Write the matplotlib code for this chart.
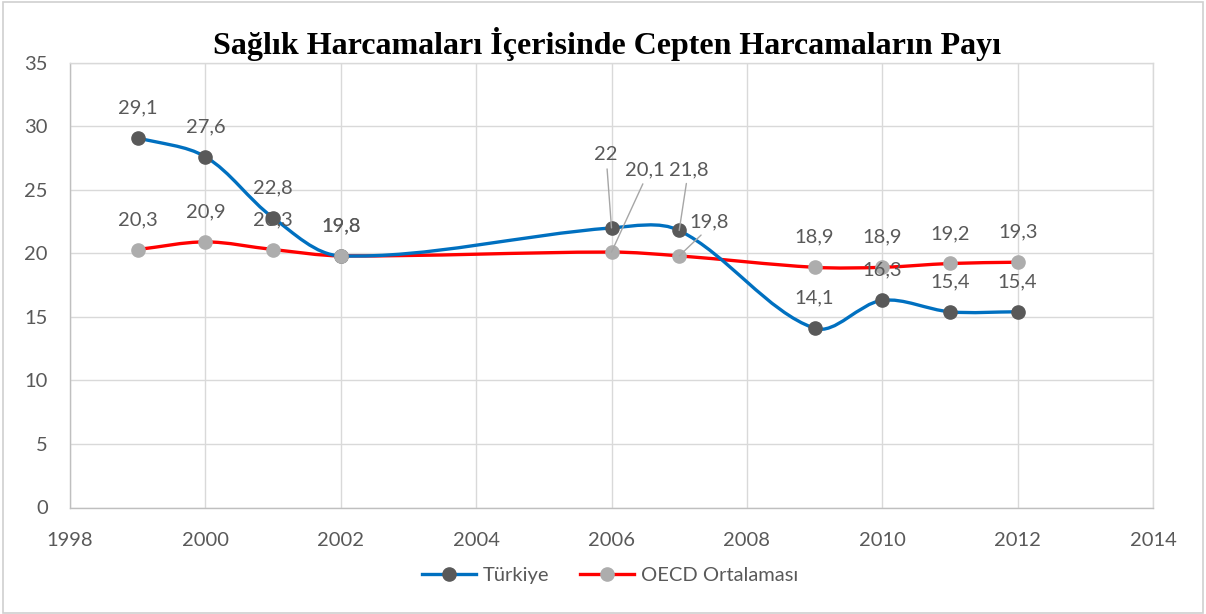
import numpy as np
import matplotlib
matplotlib.use("Agg")
import matplotlib.pyplot as plt
from matplotlib.path import Path
from matplotlib.patches import PathPatch, Rectangle
from matplotlib.lines import Line2D

# ---- data ----
years = [1999, 2000, 2001, 2002, 2006, 2007, 2009, 2010, 2011, 2012]
turkiye = [29.1, 27.6, 22.8, 19.8, 22.0, 21.8, 14.1, 16.3, 15.4, 15.4]
oecd = [20.3, 20.9, 20.3, 19.8, 20.1, 19.8, 18.9, 18.9, 19.2, 19.3]
series_names = ["Türkiye", "OECD Ortalaması"]
title = "Sağlık Harcamaları İçerisinde Cepten Harcamaların Payı"
x_ticks = [1998, 2000, 2002, 2004, 2006, 2008, 2010, 2012, 2014]
y_ticks = [0, 5, 10, 15, 20, 25, 30, 35]

TEXT = "#595959"
GRID = "#D9D9D9"
BLUE = "#0070C0"
RED = "#FF0000"
DARK_MK = "#595959"
LIGHT_MK = "#ADADAD"
FS = 14.5
LW = 2.4
MS = 9.5

plt.rcParams["font.family"] = ["Lato", "DejaVu Sans"]

W, H = 1206, 614
fig = plt.figure(figsize=(W / 100, H / 100), dpi=100)
ax = fig.add_axes([70 / W, 1 - 507.5 / H, (1153 - 70) / W, (507.5 - 62.7) / H])
ax.set_xlim(1998, 2014)
ax.set_ylim(0, 35)
ax.set_xticks(x_ticks)
ax.set_yticks(y_ticks)
ax.grid(True, color=GRID, lw=1)
ax.set_axisbelow(True)
for s in ax.spines.values():
    s.set_color(GRID)
    s.set_linewidth(1)
ax.spines["left"].set_color("#BFBFBF")
ax.spines["bottom"].set_color("#BFBFBF")
ax.tick_params(length=0, labelsize=FS, labelcolor=TEXT)
ax.tick_params(axis="y", pad=16)
ax.tick_params(axis="x", pad=18)


def smooth_path(xs, ys):
    """Bezier smoothing computed in screen space, returned in data coords."""
    pts = ax.transData.transform(np.column_stack([xs, ys]))
    n = len(pts)
    verts = [pts[0]]
    codes = [Path.MOVETO]
    for i in range(n - 1):
        p0 = pts[i - 1] if i > 0 else pts[i]
        p1 = pts[i]
        p2 = pts[i + 1]
        p3 = pts[i + 2] if i + 2 < n else pts[i + 1]
        d01 = np.hypot(*(p1 - p0))
        d12 = np.hypot(*(p2 - p1))
        d23 = np.hypot(*(p3 - p2))
        fa = d12 / (d01 + d12) if d01 + d12 > 0 else 0.5
        fb = d12 / (d12 + d23) if d12 + d23 > 0 else 0.5
        c1 = p1 + (p2 - p1) / 3 if i == 0 else p1 + (p2 - p0) * fa / 3
        c2 = p2 - (p2 - p1) / 3 if i + 2 >= n else p2 - (p3 - p1) * fb / 3
        verts += [c1, c2, p2]
        codes += [Path.CURVE4] * 3
    inv = ax.transData.inverted()
    return Path(inv.transform(np.array(verts)), codes)


# lines
ax.add_patch(PathPatch(smooth_path(years, oecd), fill=False, ec=RED, lw=LW,
                       capstyle="round", joinstyle="round", zorder=3))
ax.add_patch(PathPatch(smooth_path(years, turkiye), fill=False, ec=BLUE, lw=LW,
                       capstyle="round", joinstyle="round", zorder=3.1))
# markers
ax.plot(years, turkiye, ls="none", marker="o", ms=MS, mfc=DARK_MK, mec=DARK_MK, zorder=5)
ax.plot(years, oecd, ls="none", marker="o", ms=MS, mfc=LIGHT_MK, mec=LIGHT_MK, zorder=5.1)


def fmt(v):
    s = f"{v:.1f}".replace(".", ",")
    return s[:-2] if s.endswith(",0") else s


PX = 0.72  # pixels -> points at 100 dpi
# label offsets in pixels (dx, dy up), default straight above the marker
custom = {
    ("t", 2006): (-6, 73, 0.55),
    ("o", 2006): (33, 82, 0.52),
    ("t", 2007): (10, 61, 0.45),
    ("o", 2007): (30, 34, 0.42),
}

for key, vals in (("t", turkiye), ("o", oecd)):
    for x, v in zip(years, vals):
        if (key, x) in custom:
            dx, dy, rp = custom[(key, x)]
            ax.annotate(fmt(v), xy=(x, v), xytext=(dx * PX, dy * PX),
                        textcoords="offset points", ha="center", va="center",
                        fontsize=FS, color=TEXT, zorder=6,
                        arrowprops=dict(arrowstyle="-", color="#A6A6A6", lw=1,
                                        shrinkA=2, shrinkB=0, relpos=(rp, 0)))
        else:
            ax.annotate(fmt(v), xy=(x, v), xytext=(0, 30 * PX),
                        textcoords="offset points", ha="center", va="center",
                        fontsize=FS, color=TEXT, zorder=6)

fig.text(607 / W, 1 - 44 / H, title, ha="center", va="center",
         fontsize=23, fontweight="bold", family="Liberation Serif", color="black")

handles = [
    Line2D([], [], color=BLUE, lw=LW, marker="o", ms=MS, mfc=DARK_MK, mec=DARK_MK),
    Line2D([], [], color=RED, lw=LW, marker="o", ms=MS, mfc=LIGHT_MK, mec=LIGHT_MK),
]
fig.legend(handles, series_names, loc="center", bbox_to_anchor=(610 / W, 1 - 575 / H),
           ncol=2, frameon=False, fontsize=FS, labelcolor=TEXT,
           handlelength=2.7, handletextpad=0.35, columnspacing=1.5)

fig.patches.append(Rectangle((3.5 / W, 1.5 / H), (W - 7) / W, (H - 3.5) / H,
                             transform=fig.transFigure, fill=False, ec="#D0D0D0", lw=1.2))

fig.savefig("out.png", dpi=100)
